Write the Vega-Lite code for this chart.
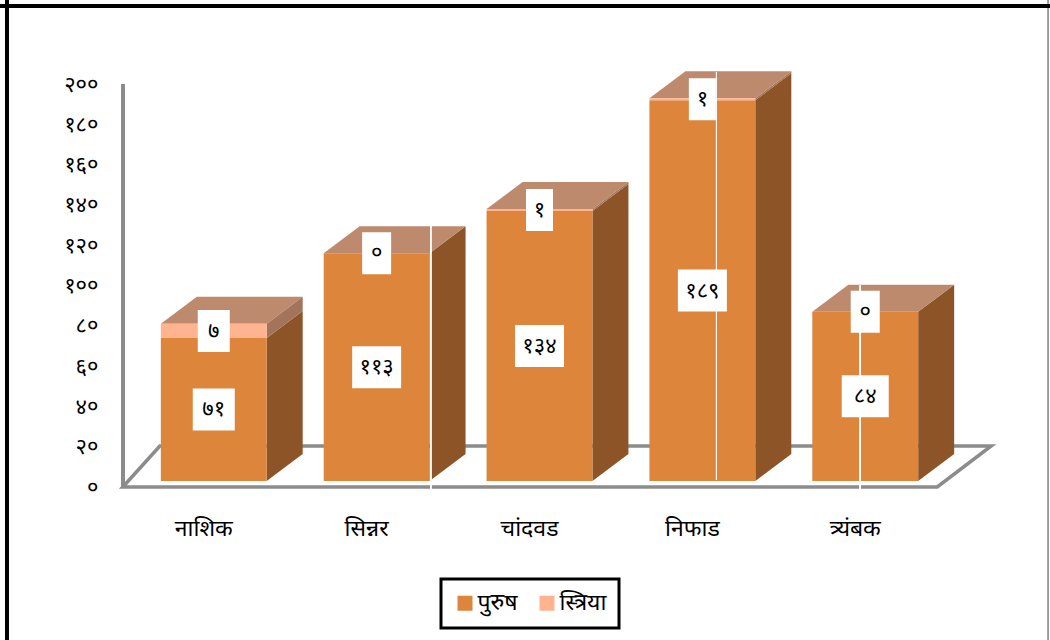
{
"$schema":"https://vega.github.io/schema/vega-lite/v6.json",
"autosize":{"type":"none"},"padding":0,"width":1050,"height":640,"background":"white",
"config":{"view":{"stroke":null},"legend":{"strokeWidth":3},
"locale":{"number":{"decimal":".","thousands":",","grouping":[3],"currency":["",""],"numerals":["०","१","२","३","४","५","६","७","८","९"]}},
"font":"Noto Sans"},
"data":{"values":[
{"तालुका":"नाशिक","पुरुष":71,"स्त्रिया":7},
{"तालुका":"सिन्नर","पुरुष":113,"स्त्रिया":0},
{"तालुका":"चांदवड","पुरुष":134,"स्त्रिया":1},
{"तालुका":"निफाड","पुरुष":189,"स्त्रिया":1},
{"तालुका":"त्र्यंबक","पुरुष":84,"स्त्रिया":0}]},
"transform":[
{"fold":["पुरुष","स्त्रिया"],"as":["लिंग","संख्या"]},
{"stack":"संख्या","groupby":["तालुका"],"sort":[{"field":"लिंग","order":"ascending"}],"as":["v0","v1"]}],
"encoding":{
"x":{"field":"तालुका","type":"nominal","sort":null,"title":null,
"scale":{"domain":["नाशिक","सिन्नर","चांदवड","निफाड","त्र्यंबक"],"range":[125,954],"paddingInner":0.35,"paddingOuter":0.22},
"axis":{"orient":"bottom","offset":-112,"domain":false,"ticks":false,"labelAngle":0,"labelOffset":-10,"labelFontSize":23,"labelColor":"#000","labelPadding":0,"labelBaseline":"middle","labelFont":"Noto Sans"}}},
"layer":[
{"mark":{"type":"rule","stroke":"#000","strokeWidth":3,"xOffset":-154},"encoding":{"x":{"datum":"नाशिक","bandPosition":0}}},
{"mark":{"type":"rule","stroke":"#999","strokeWidth":1,"xOffset":236},"encoding":{"x":{"datum":"त्र्यंबक","bandPosition":0}}},
{"mark":{"type":"rule","stroke":"#000","strokeWidth":3},"encoding":{"x":null,"y":{"datum":238.7,"type":"quantitative"}}},
{"data":{"values":[{"edge":"front"},{"edge":"back"}]},"transform":[],
"mark":{"type":"area","orient":"horizontal","fill":"transparent","stroke":"#8C8C8C","strokeWidth":3.5,"xOffset":{"expr":"datum.edge=='back'?-1:-38"},"x2Offset":{"expr":"datum.edge=='back'?126:72"},"yOffset":{"expr":"datum.edge=='back'?-41:0"}},
"encoding":{"x":{"datum":"नाशिक","bandPosition":0},"x2":{"datum":"त्र्यंबक"},"y":{"datum":0,"type":"quantitative","stack":null}}},
{"mark":{"type":"bar","opacity":0},"encoding":{"y":{"field":"v1","type":"quantitative","title":null,
"scale":{"domain":[0,200],"range":[487,84],"nice":false},
"axis":{"orient":"left","offset":-98,"domain":false,"ticks":false,"grid":false,"values":[0,20,40,60,80,100,120,140,160,180,200],"format":"d","labelFontSize":22,"labelColor":"#000","labelPadding":0,"labelFont":"Noto Sans"}},"y2":{"field":"v0"}}},
{"mark":{"type":"rule","stroke":"#8C8C8C","strokeWidth":3.5,"xOffset":-38},"encoding":{"x":{"datum":"नाशिक","bandPosition":0},"y":{"datum":200,"type":"quantitative"},"y2":{"datum":0}}},
{"transform":[{"fold":["v0","v1"],"as":["edge","e"]}],
"mark":{"type":"area","xOffset":{"expr":"datum.edge=='v1'?36:0"},"yOffset":{"expr":"datum.edge=='v1'?-33:-6"},"y2Offset":{"expr":"datum.edge=='v1'?-33:-6"}},
"encoding":{"x":{"field":"तालुका","type":"nominal","sort":null,"bandPosition":1},"y":{"field":"v1","type":"quantitative"},"y2":{"field":"v0"},"detail":[{"field":"तालुका"},{"field":"लिंग"}],
"fill":{"field":"लिंग","type":"nominal","scale":{"domain":["पुरुष","स्त्रिया"],"range":["#8D5527","#A3745A"]},"legend":null}}},
{"transform":[{"filter":"datum['लिंग']=='स्त्रिया'"},{"fold":["v0","v1"],"as":["edge","e"]}],
"mark":{"type":"area","orient":"horizontal","fill":"#BE8A6E","xOffset":{"expr":"datum.edge=='v1'?36:0"},"x2Offset":{"expr":"datum.edge=='v1'?89:53"},"yOffset":{"expr":"datum.edge=='v1'?-33:-6"}},
"encoding":{"x":{"field":"तालुका","type":"nominal","sort":null,"bandPosition":0},"x2":{"field":"तालुका"},"y":{"field":"v1","type":"quantitative","stack":null},"detail":{"field":"तालुका"}}},
{"mark":{"type":"bar","yOffset":-6,"y2Offset":-6},
"encoding":{"y":{"field":"v1","type":"quantitative"},"y2":{"field":"v0"},
"color":{"field":"लिंग","type":"nominal","scale":{"domain":["पुरुष","स्त्रिया"],"range":["#DC853B","#FFB38F"]},
"legend":{"orient":"none","legendX":441,"legendY":579,"direction":"horizontal","title":null,"fillColor":"#fff","strokeColor":"#000","padding":12.5,"offset":0,"symbolType":"square","symbolSize":225,"symbolStrokeWidth":0,"labelFontSize":23,"labelColor":"#000","labelFont":"Noto Sans","labelOffset":1,"columnPadding":17}}}},
{"mark":{"type":"rule","stroke":"#fff","strokeWidth":1,"xOffset":107},"encoding":{"x":{"datum":"सिन्नर","bandPosition":0},"y":{"datum":129.5,"type":"quantitative"},"y2":{"datum":-1.5}}},
{"mark":{"type":"rule","stroke":"#fff","strokeWidth":1,"opacity":0.3,"xOffset":67},"encoding":{"x":{"datum":"निफाड","bandPosition":0},"y":{"datum":206,"type":"quantitative"},"y2":{"datum":3.5}}},
{"mark":{"type":"rule","stroke":"#fff","strokeWidth":1,"xOffset":48},"encoding":{"x":{"datum":"त्र्यंबक","bandPosition":0},"y":{"datum":100,"type":"quantitative"},"y2":{"datum":-1.5}}},
{"transform":[{"fold":["v0","v1"],"as":["edge","e"]},{"aggregate":[{"op":"mean","field":"e","as":"मध्य"},{"op":"max","field":"संख्या","as":"मूल्य"}],"groupby":["तालुका","लिंग"]}],
"layer":[
{"mark":{"type":"tick","orient":"horizontal","color":"#fff","opacity":1,"thickness":42,"yOffset":-6},
"encoding":{"y":{"field":"मध्य","type":"quantitative"},"size":{"field":"मूल्य","type":"quantitative","legend":null,"scale":{"type":"threshold","domain":[1,2,10,80,100],"range":[29,27,32,42,47,49]}}}},
{"mark":{"type":"text","fontSize":22,"color":"#000","yOffset":-6,"font":"Noto Sans"},
"encoding":{"y":{"field":"मध्य","type":"quantitative"},"text":{"field":"मूल्य","type":"quantitative","format":"d"}}}
]}
],
"resolve":{"scale":{"fill":"independent","color":"independent"}}
}
